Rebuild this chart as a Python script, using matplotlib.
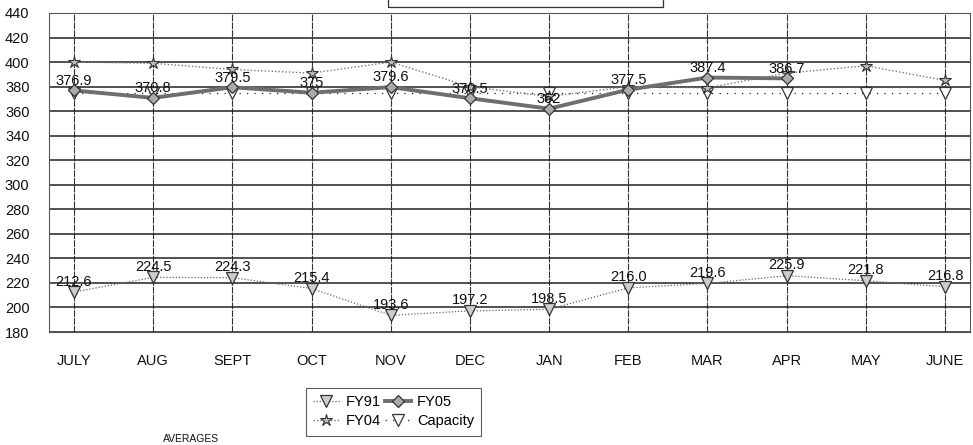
import matplotlib
matplotlib.use("Agg")
import matplotlib.pyplot as plt
from matplotlib.patches import Rectangle

plt.rcParams['font.family'] = ['Liberation Sans', 'DejaVu Sans']

months = ["JULY", "AUG", "SEPT", "OCT", "NOV", "DEC", "JAN", "FEB", "MAR", "APR", "MAY", "JUNE"]
fy91 = [212.6, 224.5, 224.3, 215.4, 193.6, 197.2, 198.5, 216.0, 219.6, 225.9, 221.8, 216.8]
fy91_labels = ["212.6", "224.5", "224.3", "215.4", "193.6", "197.2", "198.5", "216.0", "219.6", "225.9", "221.8", "216.8"]
fy04 = [400, 399, 394, 391, 400, 380, 372, 380, 379, 391, 397, 385]
fy05 = [376.9, 370.8, 379.5, 375, 379.6, 370.5, 362, 377.5, 387.4, 386.7]
fy05_labels = ["376.9", "370.8", "379.5", "375", "379.6", "370.5", "362", "377.5", "387.4", "386.7"]
capacity = [375] * 12
yticks = list(range(180, 441, 20))

fig = plt.figure(figsize=(9.73, 4.45), dpi=100)
ax = fig.add_axes([49/973, 1-332/445, (970-49)/973, (332-13)/445])

x = list(range(len(months)))

ax.plot(x, capacity, linestyle=(0, (1, 5)), color='#222222', lw=0.9,
        marker='v', markersize=8, markerfacecolor='white', markeredgecolor='#333333',
        markeredgewidth=0.9, label='Capacity', zorder=3)
ax.plot(x, fy04, linestyle=(0, (1, 1.5)), color='#777777', lw=1.0,
        marker='*', markersize=9, markerfacecolor='#bbbbbb', markeredgecolor='#333333',
        markeredgewidth=0.8, label='FY04', zorder=4)
ax.plot(x[:len(fy05)], fy05, linestyle='-', color='#6e6e6e', lw=2.8,
        marker='D', markersize=6, markerfacecolor='#aaaaaa', markeredgecolor='#333333',
        markeredgewidth=0.9, label='FY05', zorder=5)
ax.plot(x, fy91, linestyle=(0, (1, 1.5)), color='#666666', lw=0.9,
        marker='v', markersize=8, markerfacecolor='#cccccc', markeredgecolor='#333333',
        markeredgewidth=0.9, label='FY91', zorder=4)

for xi, v, t in zip(x, fy91, fy91_labels):
    ax.annotate(t, (xi, v), xytext=(0, 7.5), textcoords='offset points',
                ha='center', va='center', fontsize=10.5, color='#111111', zorder=6)
for xi, v, t in zip(x, fy05, fy05_labels):
    ax.annotate(t, (xi, v), xytext=(0, 7), textcoords='offset points',
                ha='center', va='center', fontsize=10.5, color='#111111', zorder=6)

ax.set_ylim(180, 440)
ax.set_xlim(-0.315, 11.315)
ax.set_yticks(yticks)
ax.set_xticks(x)
ax.set_xticklabels(months)
ax.tick_params(axis='both', length=0, labelsize=10.5, colors='#111111')
ax.tick_params(axis='y', pad=14)
ax.tick_params(axis='x', pad=16)
ax.grid(axis='y', color='#222222', lw=1.1)
ax.grid(axis='x', color='#333333', lw=0.8, linestyle=(0, (6, 1)))
ax.set_axisbelow(True)
for s in ax.spines.values():
    s.set_color('#555555')
    s.set_linewidth(0.8)
    s.set_linestyle((0, (6, 1)))

handles, labels = ax.get_legend_handles_labels()
order = ['FY91', 'FY04', 'FY05', 'Capacity']
hd = dict(zip(labels, handles))
leg = fig.legend([hd[k] for k in order], order, ncol=2,
                 loc='upper left', bbox_to_anchor=(306/973, 1-388/445),
                 frameon=True, fancybox=False, fontsize=10.5,
                 handlelength=1.8, handletextpad=0.4, columnspacing=0.3,
                 borderpad=0.5, labelspacing=0.35, borderaxespad=0)
leg.get_frame().set_edgecolor('#333333')
leg.get_frame().set_linewidth(0.8)

fig.patches.append(Rectangle((388/973, 1-6.5/445), 275/973, 0.1, transform=fig.transFigure,
                             fill=False, edgecolor='#333333', lw=0.9))
fig.text(163/973, 1/445, "AVERAGES", fontsize=7.5, ha='left', va='bottom', color='#111111')

fig.savefig("out.png", dpi=100)
